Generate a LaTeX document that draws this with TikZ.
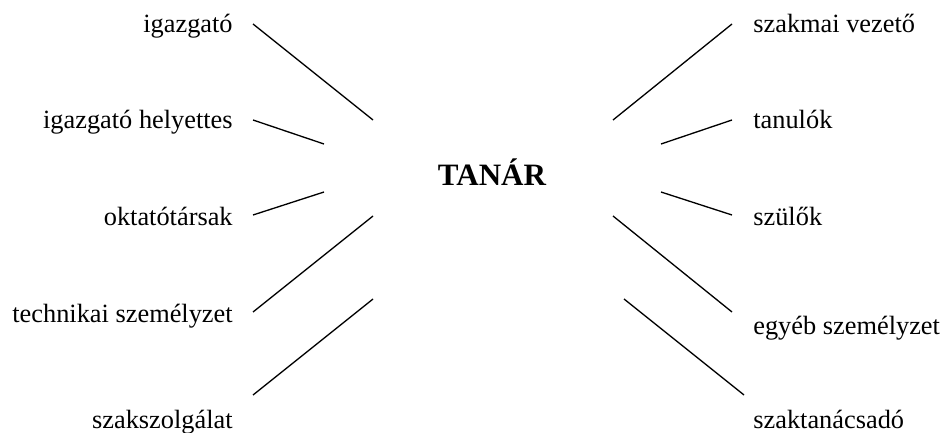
\documentclass[tikz,border=0pt]{standalone}
\usepackage{fontspec}
\setmainfont{Liberation Serif}
\usetikzlibrary{positioning}

\begin{document}
\begin{tikzpicture}[x=0.02cm, y=-0.02cm]

	\tikzstyle{rolel}=[anchor=base east, inner sep=0pt, font=\fontsize{15}{18}\selectfont]
	\tikzstyle{roler}=[anchor=base west, inner sep=0pt, font=\fontsize{15}{18}\selectfont]
	\tikzstyle{link}=[line width=0.75pt, black]

	\useasboundingbox (0,0) rectangle (945,432);

	\node (tanar) at (492,185) [anchor=base, inner sep=0pt, font=\fontsize{17.7}{21}\selectfont\bfseries] {TANÁR};

	% left side
	\node (igazgato) at (233,33) [rolel] {igazgató};
	\node (helyettes) at (233,129) [rolel] {igazgató helyettes};
	\node (oktatok) at (233,225) [rolel] {oktatótársak};
	\node (technikai) at (233,322) [rolel] {technikai személyzet};
	\node (szolgalat) at (233,428) [rolel] {szakszolgálat};

	% right side
	\node (vezeto) at (753,33) [roler] {szakmai vezető};
	\node (tanulok) at (753,129) [roler] {tanulók};
	\node (szulok) at (753,225) [roler] {szülők};
	\node (egyeb) at (753,334) [roler] {egyéb személyzet};
	\node (tanacsado) at (753,428) [roler] {szaktanácsadó};

	\coordinate (la1) at (253,24);  \coordinate (lb1) at (373,120);
	\coordinate (la2) at (253,120); \coordinate (lb2) at (324,144);
	\coordinate (la3) at (253,215); \coordinate (lb3) at (324,192);
	\coordinate (la4) at (253,312); \coordinate (lb4) at (373,216);
	\coordinate (la5) at (253,395); \coordinate (lb5) at (373,299);

	\coordinate (ra1) at (732,24);  \coordinate (rb1) at (613,120);
	\coordinate (ra2) at (732,120); \coordinate (rb2) at (661,144);
	\coordinate (ra3) at (732,215); \coordinate (rb3) at (661,192);
	\coordinate (ra4) at (732,312); \coordinate (rb4) at (613,216);
	\coordinate (ra5) at (744,395); \coordinate (rb5) at (624,299);

	\foreach \i in {1,...,5} {
		\draw [link] (la\i) -- (lb\i);
		\draw [link] (ra\i) -- (rb\i);
	}
\end{tikzpicture}
\end{document}
